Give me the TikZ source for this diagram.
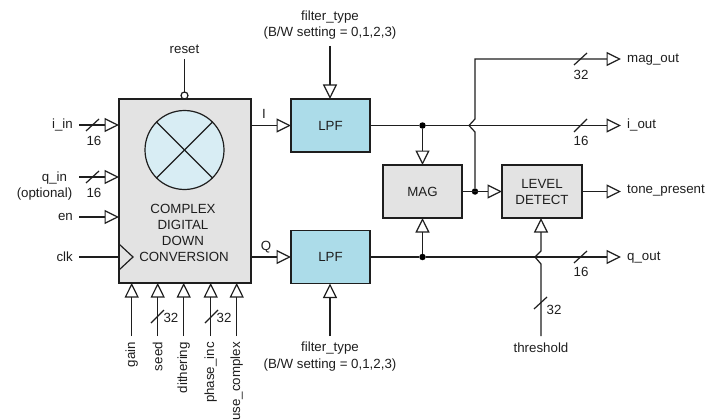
\documentclass[tikz,border=0pt]{standalone}
\usepackage{fontspec}
\setmainfont{Liberation Sans}
\usepackage{xcolor}
\definecolor{ddcgray}{RGB}{227,227,227}
\definecolor{lpfblue}{RGB}{172,220,233}
\definecolor{mixblue}{RGB}{216,237,244}
\definecolor{inkgray}{RGB}{30,30,30}
\usetikzlibrary{arrows.meta, positioning}
\tikzset{
  wire/.style={inkgray, line width=1.2pt},
  sig/.style={wire, -{Triangle[open, length=14.5pt, width=14pt, line width=1.2pt]}},
  lbl/.style={inkgray, font=\fontsize{13.3}{16}\selectfont, inner sep=0pt, align=center},
  blockbox/.style={draw=inkgray, line width=1.2pt, outer sep=0pt, inner sep=0pt, align=center,
      font=\fontsize{13.3}{16}\selectfont, text=inkgray},
  jdot/.style={circle, fill=black, inner sep=0pt, minimum size=6.5pt},
}
\begin{document}
\begin{tikzpicture}[x=1pt, y=-1pt]
\useasboundingbox (0,0) rectangle (718,420);

% --- Complex down conversion block ---
\node[blockbox, fill=ddcgray, minimum width=132pt, minimum height=184pt] (ddc) at (185,191) {};
\node[circle, draw=inkgray, fill=mixblue, line width=1.2pt, minimum size=79pt, inner sep=0pt] (mix) at (184.5,150) {};
\draw[wire] (mix.45) -- (mix.225);
\draw[wire] (mix.135) -- (mix.315);
\node[lbl] (ddctxt1) at (183,209) {COMPLEX};
\node[lbl] (ddctxt2) at (183,225) {DIGITAL};
\node[lbl] (ddctxt3) at (183,241) {DOWN};
\node[lbl] (ddctxt4) at (184,257) {CONVERSION};

% Clock wedge
\draw[wire] (119,244) -- (133,257) -- (119,270);

% Reset
\node[lbl] (resetlbl) at (184.5,49) {reset};
\coordinate (resetin) at (184.5,59);
\node[circle, draw=inkgray, fill=white, line width=1.2pt, minimum size=7pt, inner sep=0pt, outer sep=0pt] (resetbub) at (184.5,95.5) {};
\draw[wire] (resetin) -- (resetbub);

% Left inputs
\node[lbl, anchor=east] (iinlbl) at (73,125) {i\_in};
\node[lbl] (qinlbl) at (54.5,178) {q\_in};
\node[lbl] (qoptlbl) at (44.5,194.5) {(optional)};
\node[lbl, anchor=east] (enlbl) at (73,216.5) {en};
\node[lbl, anchor=east] (clklbl) at (73,256.5) {clk};
\coordinate (iin) at (79,125);
\coordinate (qin) at (79,177);
\coordinate (enin) at (79,217);
\coordinate (clkin) at (79,257);
\draw[sig] (iin) -- (ddc.west |- iin);
\draw[sig] (qin) -- (ddc.west |- qin);
\draw[sig] (enin) -- (ddc.west |- enin);
\draw[wire] (clkin) -- (ddc.west |- clkin);
\node[lbl] (iinw) at (94,141) {16};
\node[lbl] (qinw) at (94,193) {16};
\draw[wire] (86,131) -- (99,119);
\draw[wire] (86,183) -- (99,171);

% Bottom inputs
\foreach \xpos/\name/\txt in {131.7/gain/gain, 157.7/seed/seed, 183.7/dither/dithering,
    210.7/phinc/phase\_inc, 236.7/usecx/use\_complex} {
  \node[lbl, rotate=90, anchor=east] (\name lbl) at (\xpos,342) {\txt};
  \coordinate (\name) at (\xpos,336);
  \draw[sig] (\name) -- (\name |- ddc.south);
}
\draw[wire] (151,323) -- (164,310);
\node[lbl] (seedw) at (171,318) {32};
\draw[wire] (205,323) -- (218,310);
\node[lbl] (phincw) at (224,318) {32};

% --- Filters ---
\node[blockbox, fill=lpfblue, minimum width=79pt, minimum height=53pt] (lpfi) at (330.5,125.5) {LPF};
\node[blockbox, fill=lpfblue, minimum width=79pt, minimum height=53pt] (lpfq) at (330.5,257) {LPF};
\draw[sig] (ddc.east |- lpfi) -- (lpfi);
\draw[sig] (ddc.east |- lpfq) -- (lpfq);
\node[lbl] (ilbl) at (264,114) {I};
\node[lbl] (qlbl) at (266,247) {Q};

\node[lbl] (ftop1) at (330,17) {filter\_type};
\node[lbl] (ftop2) at (330,33.5) {(B/W setting = 0,1,2,3)};
\coordinate (ftopin) at (330,46);
\draw[sig] (ftopin) -- (ftopin |- lpfi.north);
\node[lbl] (fbot1) at (330,348) {filter\_type};
\node[lbl] (fbot2) at (330,365.5) {(B/W setting = 0,1,2,3)};
\coordinate (fbotin) at (330,336);
\draw[sig] (fbotin) -- (fbotin |- lpfq.south);

% --- MAG and level detect ---
\node[blockbox, fill=ddcgray, minimum width=79pt, minimum height=53pt] (mag) at (422.5,191.5) {MAG};
\node[blockbox, fill=ddcgray, minimum width=80pt, minimum height=53pt] (lvl) at (542,191.5) {LEVEL\\DETECT};

\node[jdot] (idot) at (422.5,125.5) {};
\node[jdot] (qdot) at (422.5,257) {};
\node[jdot] (mdot) at (475,191.5) {};
\draw[sig] (idot) -- (mag);
\draw[sig] (qdot) -- (mag);
\draw[sig] (mag) -- (lvl);

% Outputs
\coordinate (magend) at (621,59);
\coordinate (iend) at (621,125.5);
\coordinate (qend) at (621,257);
\coordinate (toneend) at (621,191.5);
\draw[wire] (lpfi) -- (idot);
\draw[wire] (lpfq) -- (qdot);
\draw[sig] (idot) -- (iend);
\draw[sig] (qdot) -- (qend);
\draw[sig] (lvl) -- (toneend);
\draw[sig] (mdot) -- (475,132) -- (469,125.5) -- (475,119) -- (475,59) -- (magend);
\node[lbl, anchor=west] (magout) at (627,59.5) {mag\_out};
\node[lbl, anchor=west] (iout) at (627,125.5) {i\_out};
\node[lbl, anchor=west] (toneout) at (627,190.5) {tone\_present};
\node[lbl, anchor=west] (qout) at (627,257.5) {q\_out};
\draw[wire] (574,65) -- (587,53);
\draw[wire] (574,132) -- (587,119);
\draw[wire] (574,263) -- (587,251);
\node[lbl] (magw) at (581,75) {32};
\node[lbl] (iw) at (581,141) {16};
\node[lbl] (qw) at (581,272) {16};

% Threshold
\coordinate (thrin) at (541,336);
\draw[sig] (thrin) -- (541,264) -- (535,257) -- (541,251) -- (541,218);
\draw[wire] (534,309) -- (547,297);
\node[lbl] (thrw) at (554,310) {32};
\node[lbl] (thrlbl) at (541,348) {threshold};

\end{tikzpicture}
\end{document}
